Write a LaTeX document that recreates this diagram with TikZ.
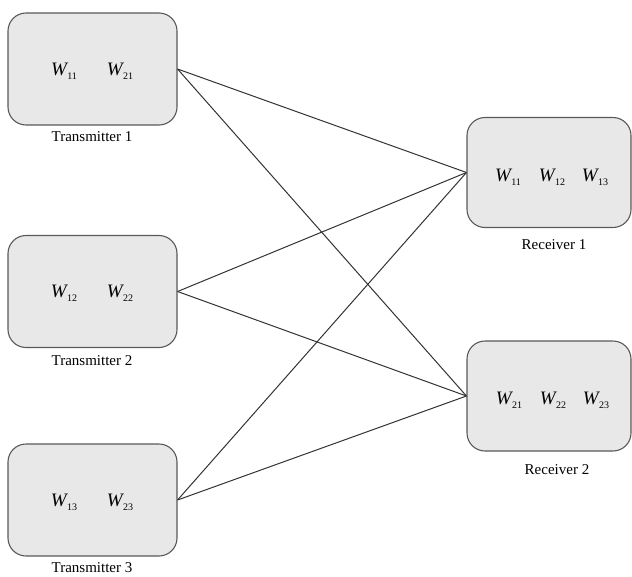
\documentclass[tikz,border=0pt]{standalone}
\usepackage{fontspec}
\setmainfont{Liberation Serif}
\newcommand{\Wsub}[1]{{\fontsize{19}{19}\selectfont\itshape W}\kern0.5pt\raisebox{-4pt}{\fontsize{10}{10}\selectfont #1}}
\begin{document}
\begin{tikzpicture}[x=1pt,y=-1pt,
  unitbox/.style={draw=black!65, line width=1.1pt, fill=black!9, rounded corners=18pt, inner sep=0pt},
  txbox/.style={unitbox, minimum width=169pt, minimum height=112pt},
  rxbox/.style={unitbox, minimum width=164pt, minimum height=110pt},
  wlab/.style={inner sep=0pt, anchor=center},
  caption/.style={font=\fontsize{15}{15}\selectfont, inner sep=0pt},
  link/.style={draw=black!80, line width=1pt}]
\useasboundingbox (0,0) rectangle (632,576);
% transmitters
\node[txbox] (t1) at (92.5,69) {};
\node[txbox] (t2) at (92.5,291.5) {};
\node[txbox] (t3) at (92.5,500) {};
% receivers
\node[rxbox] (r1) at (549,172.5) {};
\node[rxbox] (r2) at (549,396) {};
% contents
\node[wlab] (t1a) at (64,71) {\Wsub{11}};
\node[wlab] (t1b) at (120,71) {\Wsub{21}};
\node[wlab] (t2a) at (64,293) {\Wsub{12}};
\node[wlab] (t2b) at (120,293) {\Wsub{22}};
\node[wlab] (t3a) at (64,502) {\Wsub{13}};
\node[wlab] (t3b) at (120,502) {\Wsub{23}};
\node[wlab] (r1a) at (508,177) {\Wsub{11}};
\node[wlab] (r1b) at (552,177) {\Wsub{12}};
\node[wlab] (r1c) at (595,177) {\Wsub{13}};
\node[wlab] (r2a) at (509,400) {\Wsub{21}};
\node[wlab] (r2b) at (553,400) {\Wsub{22}};
\node[wlab] (r2c) at (596,400) {\Wsub{23}};
% captions
\node[caption] (c1) at (92,137) {Transmitter 1};
\node[caption] (c2) at (92,361) {Transmitter 2};
\node[caption] (c3) at (92,568) {Transmitter 3};
\node[caption] (c4) at (554,245) {Receiver 1};
\node[caption] (c5) at (557,470) {Receiver 2};
% links
\draw[link] (t1.east) -- (r1.west);
\draw[link] (t1.east) -- (r2.west);
\draw[link] (t2.east) -- (r1.west);
\draw[link] (t2.east) -- (r2.west);
\draw[link] (t3.east) -- (r1.west);
\draw[link] (t3.east) -- (r2.west);
\end{tikzpicture}
\end{document}
